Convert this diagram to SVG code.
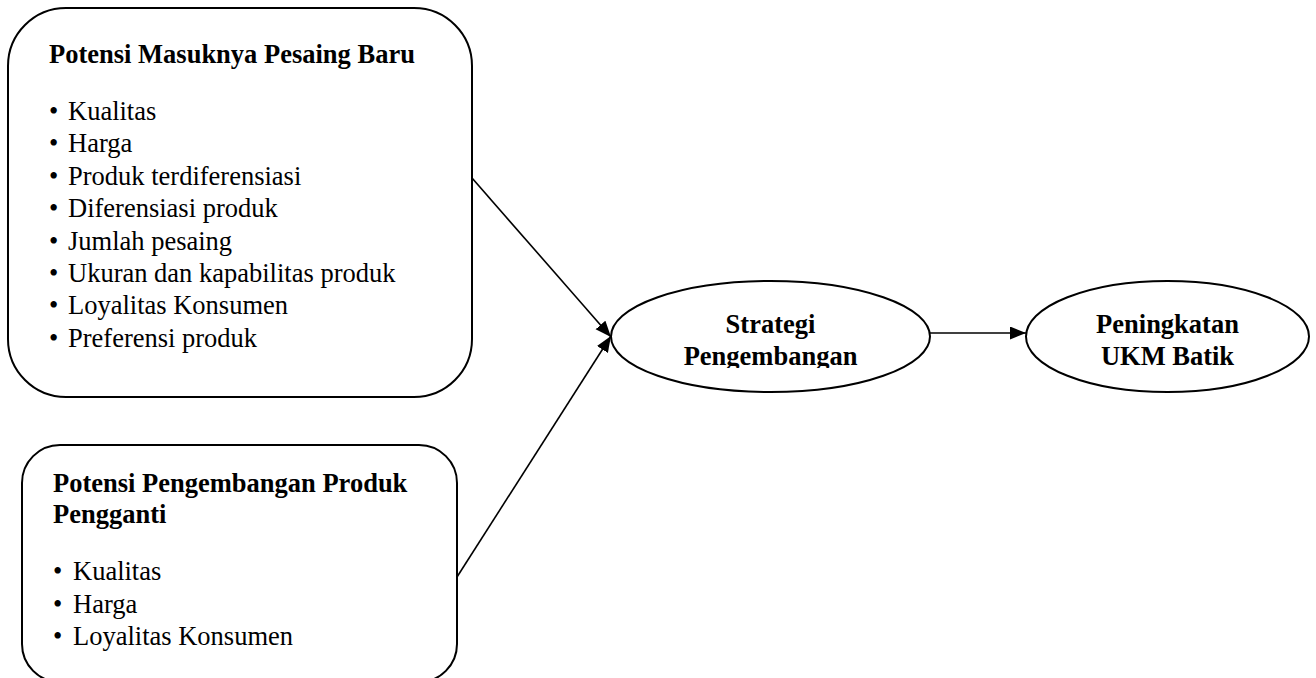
<svg xmlns="http://www.w3.org/2000/svg" width="1316" height="678" viewBox="0 0 1316 678">
<style>
  .box { fill: #ffffff; stroke: #000000; stroke-width: 2; }
  .t { font-family: "Liberation Serif", "Times New Roman", serif; font-size: 26.5px; fill: #000000; }
  .b { font-weight: bold; }
  .c { text-anchor: middle; }
  .conn { stroke: #000000; stroke-width: 1.6; fill: none; marker-end: url(#arr); }
</style>
<defs>
  <marker id="arr" markerUnits="userSpaceOnUse" markerWidth="17" markerHeight="14" refX="16" refY="6.5" orient="auto">
    <path d="M0,0 L16,6.5 L0,13 z" fill="#000000"/>
  </marker>
  <clipPath id="clipStrat">
    <rect x="600" y="270" width="340" height="98"/>
  </clipPath>
</defs>
<rect width="1316" height="678" fill="#ffffff"/>

<g id="node-pesaing-baru">
  <rect class="box" x="8" y="8" width="464" height="389" rx="58" ry="58"/>
  <text class="t b" x="49" y="63">Potensi Masuknya Pesaing Baru</text>
  <text class="t" x="49" y="120">•</text><text class="t" x="68" y="120">Kualitas</text>
  <text class="t" x="49" y="152.4">•</text><text class="t" x="68" y="152.4">Harga</text>
  <text class="t" x="49" y="184.8">•</text><text class="t" x="68" y="184.8">Produk terdiferensiasi</text>
  <text class="t" x="49" y="217.2">•</text><text class="t" x="68" y="217.2">Diferensiasi produk</text>
  <text class="t" x="49" y="249.6">•</text><text class="t" x="68" y="249.6">Jumlah pesaing</text>
  <text class="t" x="49" y="282">•</text><text class="t" x="68" y="282">Ukuran dan kapabilitas produk</text>
  <text class="t" x="49" y="314.4">•</text><text class="t" x="68" y="314.4">Loyalitas Konsumen</text>
  <text class="t" x="49" y="346.8">•</text><text class="t" x="68" y="346.8">Preferensi produk</text>
</g>

<g id="node-produk-pengganti">
  <rect class="box" x="22" y="445" width="435" height="237" rx="38" ry="38"/>
  <text class="t b" x="53" y="492">Potensi Pengembangan Produk</text>
  <text class="t b" x="53" y="523">Pengganti</text>
  <text class="t" x="53" y="580">•</text><text class="t" x="73" y="580">Kualitas</text>
  <text class="t" x="53" y="612.5">•</text><text class="t" x="73" y="612.5">Harga</text>
  <text class="t" x="53" y="645">•</text><text class="t" x="73" y="645">Loyalitas Konsumen</text>
</g>

<g id="node-strategi">
  <ellipse class="box" cx="770.5" cy="336.5" rx="159.5" ry="55.5"/>
  <g clip-path="url(#clipStrat)">
    <text class="t b c" x="770.5" y="333">Strategi</text>
    <text class="t b c" x="770.5" y="365">Pengembangan</text>
  </g>
</g>

<g id="node-peningkatan">
  <ellipse class="box" cx="1167.5" cy="336.5" rx="141.5" ry="55.5"/>
  <text class="t b c" x="1167.5" y="333">Peningkatan</text>
  <text class="t b c" x="1167.5" y="365">UKM Batik</text>
</g>

<g id="connectors">
  <line class="conn" x1="472" y1="178" x2="611" y2="337"/>
  <line class="conn" x1="457" y1="577" x2="611" y2="336"/>
  <line class="conn" x1="930" y1="333" x2="1026" y2="333"/>
</g>
</svg>
